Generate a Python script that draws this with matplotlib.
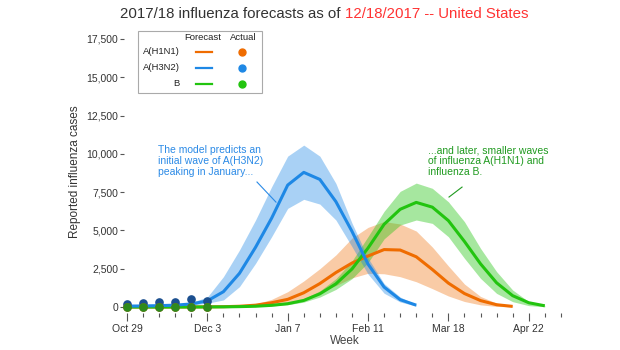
import numpy as np
import matplotlib
matplotlib.use('Agg')
import matplotlib.pyplot as plt
from matplotlib.lines import Line2D
from matplotlib.patches import Rectangle

plt.rcParams['font.family'] = ['Liberation Sans', 'DejaVu Sans']

# week index 0 = Oct 29, one step per week
tick_weeks = [0, 5, 10, 15, 20, 25]
tick_labels = ['Oct 29', 'Dec 3', 'Jan 7', 'Feb 11', 'Mar 18', 'Apr 22']
n_ticks = 28

# A(H3N2) forecast, weeks 0..18
h3_med = [60, 70, 90, 120, 200, 400, 1000, 2200, 3900, 5800, 7960, 8790, 8330, 6880, 4940, 2800, 1300, 480, 120]
h3_hi = [80, 90, 120, 170, 300, 650, 1980, 3720, 5680, 7850, 9850, 10570, 9850, 8070, 5480, 3200, 1530, 650, 160]
h3_lo = [40, 50, 60, 80, 120, 250, 460, 1330, 2850, 4590, 6440, 7030, 6720, 5680, 3940, 2150, 900, 330, 60]

# A(H1N1) forecast, weeks 0..24
h1_med = [0, 0, 0, 0, 5, 10, 20, 50, 120, 280, 500, 930, 1530, 2250, 2870, 3330, 3750, 3720, 3280, 2450,
          1560, 880, 420, 150, 40]
h1_hi = [0, 0, 0, 5, 10, 20, 40, 90, 200, 500, 1000, 1700, 2500, 3400, 4500, 5200, 5580, 5420, 4960, 3920,
         2680, 1500, 690, 250, 70]
h1_lo = [0, 0, 0, 0, 0, 5, 10, 25, 60, 150, 300, 550, 950, 1400, 1900, 2200, 2170, 1980, 1650, 1200,
         720, 360, 140, 40, 10]

# B forecast, weeks 0..26
b_med = [0, 0, 0, 0, 0, 5, 10, 25, 50, 110, 215, 430, 860, 1510, 2480, 3850, 5400, 6380, 6830, 6520,
         5640, 4280, 2820, 1580, 740, 280, 80]
b_hi = [0, 0, 0, 0, 5, 10, 20, 40, 80, 160, 300, 550, 1050, 1850, 3000, 4600, 6250, 7550, 8090, 7750,
        6870, 5570, 3830, 2310, 1110, 350, 100]
b_lo = [0, 0, 0, 0, 0, 0, 5, 15, 30, 70, 150, 320, 650, 1150, 1850, 2900, 4450, 5350, 5680, 5460,
        4590, 3180, 1870, 890, 350, 90, 20]

# actual reported counts, weeks 0..5
act_weeks = [0, 1, 2, 3, 4, 5]
h3_act = [175, 240, 305, 345, 520, 410]
h1_act = [10, 10, 15, 15, 20, 25]
b_act = [5, 5, 5, 5, 5, 5]

c_h1 = '#ef6c00'
c_h3 = '#1e88e5'
c_b = '#22c40f'

fig = plt.figure(figsize=(6.2, 3.5), dpi=100)
ax = fig.add_axes([0.2008, 0.1071, 0.7116, 0.807])

w3 = np.arange(len(h3_med))
w1 = np.arange(len(h1_med))
wb = np.arange(len(b_med))

ax.fill_between(w1, h1_lo, h1_hi, color=c_h1, alpha=0.35, lw=0, zorder=1)
ax.fill_between(wb, b_lo, b_hi, color=c_b, alpha=0.4, lw=0, zorder=1)
ax.fill_between(w3, h3_lo, h3_hi, color=c_h3, alpha=0.38, lw=0, zorder=1)

ax.plot(w1, h1_med, color=c_h1, lw=2.2, zorder=3, solid_capstyle='butt')
ax.plot(wb, b_med, color=c_b, lw=2.2, zorder=3, solid_capstyle='butt')
ax.plot(w3, h3_med, color=c_h3, lw=2.2, zorder=4, solid_capstyle='butt')

ax.plot(act_weeks, h3_act, 'o', color='#1b4f8f', ms=5.2, zorder=5, clip_on=False)
ax.plot(act_weeks, h1_act, 'o', color='#b5600c', ms=5.2, zorder=5, clip_on=False)
ax.plot(act_weeks, b_act, 'o', color='#2e8a1c', ms=5.2, zorder=6, clip_on=False)

ax.set_xlim(-0.156, 27.3)
ax.set_ylim(-359, 18081)
for s in ax.spines.values():
    s.set_visible(False)

ax.set_yticks(np.arange(0, 17501, 2500))
ax.set_yticklabels(['{:,}'.format(v) for v in range(0, 17501, 2500)])
ax.set_xticks(tick_weeks)
ax.set_xticklabels(tick_labels)
ax.set_xticks(np.arange(n_ticks), minor=True)
ax.tick_params(axis='y', length=3, width=0.8, pad=1.5, color='#555555', labelsize=7.5, labelcolor='#333333')
ax.tick_params(axis='x', which='major', length=6, width=0.8, pad=2, color='#555555', labelsize=7.5,
               labelcolor='#333333')
ax.tick_params(axis='x', which='minor', length=3, width=0.8, color='#555555')

ax.set_ylabel('Reported influenza cases', fontsize=8.5, color='#333333', labelpad=4)
ax.set_xlabel('Week', fontsize=8.5, color='#444444', labelpad=1)

# annotations
ax.text(1.93, 10550, 'The model predicts an\ninitial wave of A(H3N2)\npeaking in January...',
        fontsize=7.5, color='#2b8ae6', va='top', ha='left', linespacing=1.12)
ax.plot([8.09, 9.27], [8160, 6850], color='#2b8ae6', lw=0.8, zorder=6)
ax.text(18.73, 10550, '...and later, smaller waves\nof influenza A(H1N1) and\ninfluenza B.',
        fontsize=7.5, color='#1f9a1f', va='top', ha='left', linespacing=1.12)
ax.plot([20.85, 20.04], [7830, 7180], color='#1f9a1f', lw=0.8, zorder=6)

# title in two colours
fig.text(341 / 620, 1 - 14 / 350, '2017/18 influenza forecasts as of', ha='right', va='center',
         fontsize=10.8, color='#333333')
fig.text(345 / 620, 1 - 14 / 350, '12/18/2017 -- United States', ha='left', va='center',
         fontsize=10.8, color='#ff3333')

# legend box
W, H = 620.0, 350.0
fig.add_artist(Rectangle((138 / W, 1 - 93 / H), 124 / W, 62 / H, transform=fig.transFigure,
                         fill=False, edgecolor='#aaaaaa', lw=0.8))
fig.text(203 / W, 1 - 37 / H, 'Forecast', ha='center', va='center', fontsize=6.8, color='#222222')
fig.text(243 / W, 1 - 37 / H, 'Actual', ha='center', va='center', fontsize=6.8, color='#222222')
leg_names = ['A(H1N1)', 'A(H3N2)', 'B']
leg_cols = [c_h1, c_h3, c_b]
leg_y = [52, 68, 84]
for name, col, yy in zip(leg_names, leg_cols, leg_y):
    fy = 1 - yy / H
    fig.text(180 / W, fy, name, ha='right', va='center', fontsize=6.8, color='#222222')
    fig.add_artist(Line2D([196 / W, 212 / W], [fy, fy], transform=fig.transFigure, color=col, lw=1.6))
    fig.add_artist(Line2D([242 / W], [fy], transform=fig.transFigure, color=col, marker='o', ms=5,
                          lw=0))

fig.savefig('out.png', dpi=100)
